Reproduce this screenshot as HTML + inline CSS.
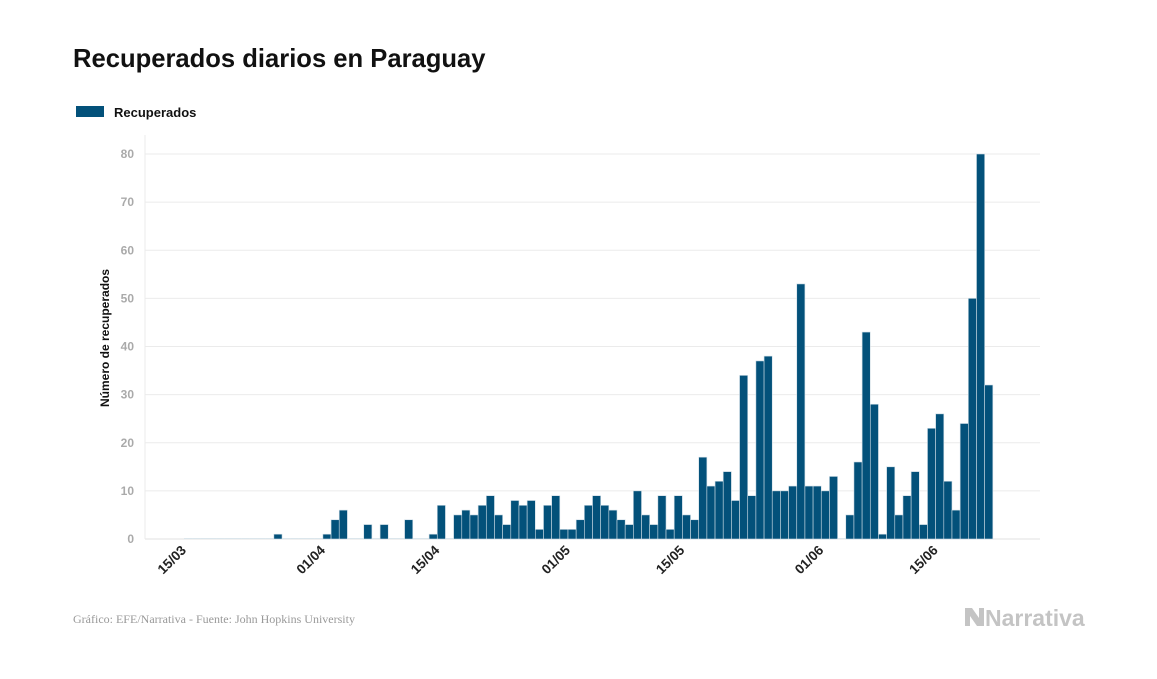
<!DOCTYPE html>
<html><head><meta charset="utf-8"><style>
body{margin:0;background:#fff;width:1157px;height:674px;overflow:hidden;font-family:"Liberation Sans",sans-serif}
</style></head><body>
<svg width="1157" height="674">
<text x="73" y="67" font-size="25.6" font-weight="bold" fill="#111">Recuperados diarios en Paraguay</text>
<rect x="76" y="106" width="28" height="11" fill="#03517a"/>
<text x="114" y="117" font-size="13" font-weight="bold" fill="#111">Recuperados</text>
<text transform="translate(109,338) rotate(-90)" text-anchor="middle" font-size="12" font-weight="bold" fill="#111">Número de recuperados</text>
<g id="grid"></g><g id="bars"></g><g id="xt"></g>
<text x="73" y="623" font-family="Liberation Serif,serif" font-size="12" fill="#999">Gráfico: EFE/Narrativa - Fuente: John Hopkins University</text>
<g>
<path d="M965 608 L972 608 L979 618 L979 608 L984 608 L984 626 L977 626 L970 616 L970 626 L965 626Z" fill="#c4c4c4"/>
<text x="985" y="626" font-size="23" font-weight="bold" fill="#c4c4c4">Narrativa</text>
</g>
</svg>
<script>
const yTicks=[0,10,20,30,40,50,60,70,80];
const values=[0,0,0,0,0,0,0,0,0,0,0,1,0,0,0,0,0,1,4,6,0,0,3,0,3,0,0,4,0,0,1,7,0,5,6,5,7,9,5,3,8,7,8,2,7,9,2,2,4,7,9,7,6,4,3,10,5,3,9,2,9,5,4,17,11,12,14,8,34,9,37,38,10,10,11,53,11,11,10,13,0,5,16,43,28,1,15,5,9,14,3,23,26,12,6,24,50,80,32];
const tickLabels=["15/03","01/04","15/04","01/05","15/05","01/06","15/06"];
const tickDays=[0,17,31,47,61,78,92];
const NS="http://www.w3.org/2000/svg";
const x0=184,bw=8.17,y0=539,yk=(539-154)/80;
const X=i=>x0+i*bw, Y=v=>y0-v*yk;
const g=document.getElementById('grid'),b=document.getElementById('bars'),xt=document.getElementById('xt');
function mk(t,a,p){const e=document.createElementNS(NS,t);for(const k in a)e.setAttribute(k,a[k]);p.appendChild(e);return e;}
yTicks.forEach(v=>{
const l=mk('line',{x1:145,x2:1040,y1:Y(v),y2:Y(v),stroke:v?'#ebebeb':'#e0e0e0','stroke-width':1},g);


const t=mk('text',{x:134,y:Y(v)+4,'text-anchor':'end','font-size':12,'font-weight':'bold',fill:'#aaa'},g);
t.textContent=v;


});
mk('line',{x1:145,x2:145,y1:135,y2:539,stroke:'#ebebeb'},g);
values.forEach((v,i)=>{
if(v<=0){const z=mk('line',{x1:X(i),x2:X(i)+bw,y1:y0-0.5,y2:y0-0.5,stroke:'#dbe6ec'},b);return;}
const r=mk('rect',{x:X(i),y:Y(v),width:bw,height:v*yk,fill:'#03517a',stroke:'#cfdde6','stroke-width':0.6},b);


});
tickLabels.forEach((s,k)=>{
const x=X(tickDays[k])+3;
const t=mk('text',{transform:`translate(${x},${551}) rotate(-45)`,'text-anchor':'end','font-size':13.5,'font-weight':'bold',fill:'#222'},xt);
t.textContent=s;


});
</script>
</body></html>
